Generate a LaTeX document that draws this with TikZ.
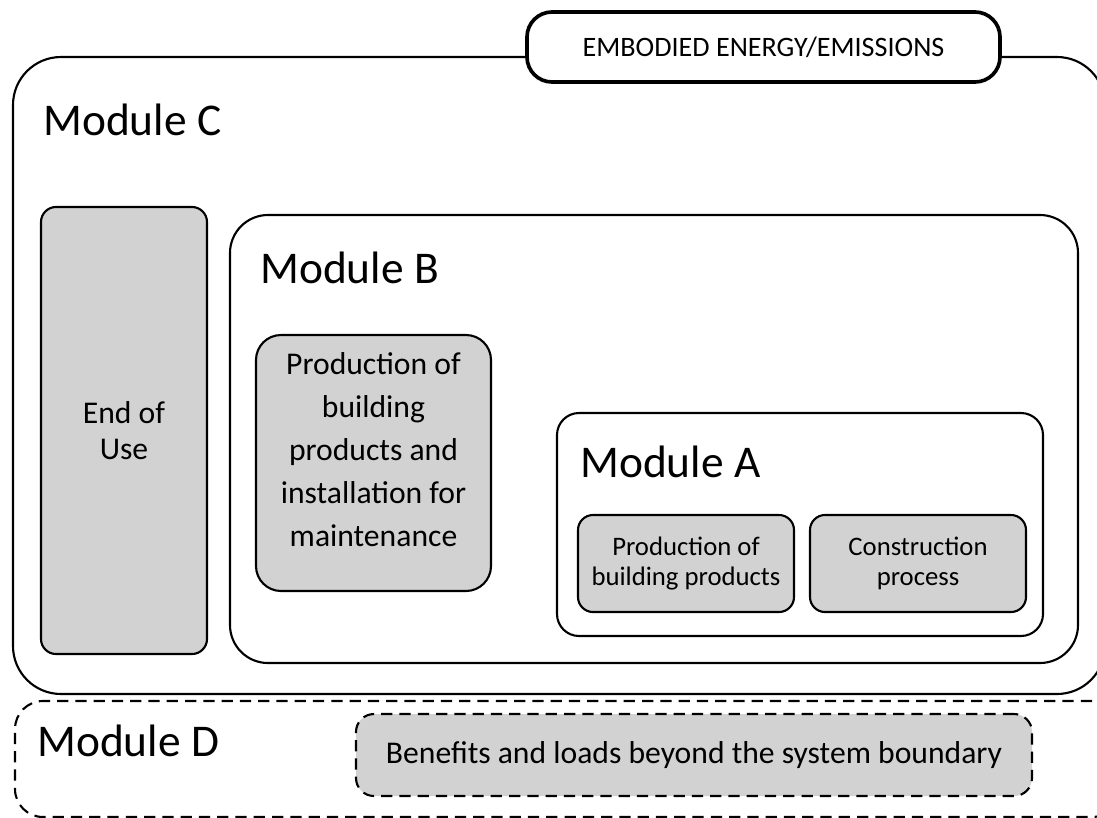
\documentclass[tikz,border=0pt]{standalone}
\usepackage{fontspec}
\setmainfont{Carlito}
\usetikzlibrary{calc}
\definecolor{boxgray}{RGB}{210,210,210}

\begin{document}
\begin{tikzpicture}[x=0.025cm,y=-0.025cm,
	every node/.style={inner sep=0pt,align=center},
	boxsize/.style 2 args={minimum width=#1*0.025cm,minimum height=#2*0.025cm},
	frame/.style={draw,line width=1.5pt,fill=white},
	graybox/.style={draw,line width=1.5pt,fill=boxgray,font=\fontsize{22.5}{30.6}\selectfont},
	dashframe/.style={draw,line width=1.5pt,dash pattern=on 8pt off 5pt},
	modlabel/.style={anchor=west,font=\fontsize{32.3}{36}\selectfont}]
	
	\useasboundingbox (0,0) rectangle (1097,817);
	\clip (0,0) rectangle (1097,817);
	
	%outer frames
	\node[frame,boxsize={1092}{637},rounded corners=48*0.025cm] (C) at (559,375.5){};
	\node[dashframe,boxsize={1105}{116},rounded corners=28*0.025cm] (D) at (567.5,759){};
	\node[frame,line width=2.6pt,boxsize={473}{70},rounded corners=25*0.025cm,
		font=\fontsize{20}{24}\selectfont] (emb) at (763.5,47){EMBODIED ENERGY/EMISSIONS};
	
	\node[modlabel] (labC) at (43,120){Module C};
	\node[modlabel] (labD) at (37,741){Module D};
	
	%module C content
	\node[graybox,boxsize={166}{447},rounded corners=15*0.025cm,
		font=\fontsize{22.5}{25.6}\selectfont] (eou) at (124,430.5){End of\\Use};
	\node[frame,boxsize={848}{448},rounded corners=38*0.025cm] (B) at (654,439){};
	\node[modlabel] (labB) at (260,268){Module B};
	
	%module B content
	\node[graybox,boxsize={235}{256},rounded corners=25*0.025cm] (maint) at (373.5,463){};
	\node at ($(maint)+(0,-13)$) [font=\fontsize{22.5}{30.6}\selectfont] (mainttxt)
		{Production of\\building\\products and\\installation for\\maintenance};
	\node[frame,boxsize={486}{223},rounded corners=22*0.025cm] (A) at (800,524.5){};
	\node[modlabel] (labA) at (580,462){Module A};
	
	%module A content
	\begin{scope}[every node/.append style={graybox,boxsize={216}{97},rounded corners=15*0.025cm,
		font=\fontsize{19}{21.5}\selectfont}]
	\node (prod) at (686,563.5){Production of\\building products};
	\node (constr) at (918,563.5){Construction\\process};
	\end{scope}
	
	%module D content
	\node[graybox,dashframe,boxsize={676}{82},rounded corners=18*0.025cm] (ben) at (694,755)
		{Benefits and loads beyond the system boundary};
\end{tikzpicture}
\end{document}
